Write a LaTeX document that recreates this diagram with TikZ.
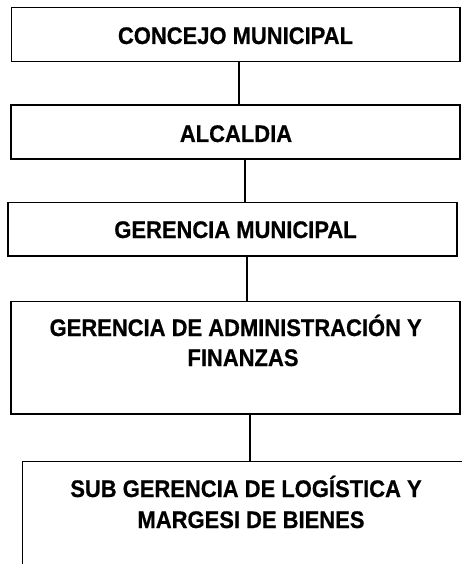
\documentclass[tikz,border=0pt]{standalone}
\usepackage{fontspec}
\newfontfamily\lab{Liberation Sans}[FakeStretch=0.915,FakeBold=0.6]
\begin{document}
\begin{tikzpicture}[x=1pt,y=-1pt,
  box/.style={draw, line width=1.3pt, inner sep=0pt, rectangle},
  lbl/.style={font=\lab\bfseries\fontsize{24}{30}\selectfont, anchor=base, inner sep=0pt},
  conn/.style={line width=1.3pt}]
\fill[white] (0,0) rectangle (461,564);
\useasboundingbox (0,0) rectangle (461,564);
% boxes
\node[box, minimum width=448.3pt, minimum height=54.4pt] (b1) at (235.85,34.5) {};
\node[box, minimum width=449pt, minimum height=54pt] (b2) at (235.5,132) {};
\node[box, minimum width=449pt, minimum height=53.7pt] (b3) at (232.5,229.15) {};
\node[box, minimum width=449pt, minimum height=112.3pt] (b4) at (235.5,357.85) {};
\coordinate (b5top) at (250,461.7);
\coordinate (b5bl) at (22.7,570);
\coordinate (b5tl) at (22.7,461.7);
\coordinate (b5tr) at (470,461.7);
\draw[line width=1.3pt] (b5bl) -- (b5tl) -- (b5tr);
% labels
\node[lbl] (t1) at (235.5,44) {CONCEJO MUNICIPAL};
\node[lbl] (t2) at (236,142) {ALCALDIA};
\node[lbl] (t3) at (235.5,238) {GERENCIA MUNICIPAL};
\node[lbl] (t4a) at (235.7,336) {GERENCIA DE ADMINISTRACIÓN Y};
\node[lbl] (t4b) at (243,366) {FINANZAS};
\node[lbl] (t5a) at (246,497) {SUB GERENCIA DE LOGÍSTICA Y};
\node[lbl] (t5b) at (251,528) {MARGESI DE BIENES};
% connectors
\draw[conn] ([xshift=3.2pt]b1.south) -- ([xshift=3.2pt]b1.south |- b2.north);
\draw[conn] ([xshift=9.5pt]b2.south) -- ([xshift=9.5pt]b2.south |- b3.north);
\draw[conn] ([xshift=14.5pt]b3.south) -- ([xshift=14.5pt]b3.south |- b4.north);
\draw[conn] ([xshift=14.5pt]b4.south) -- ([xshift=14.5pt]b4.south |- b5top);
\end{tikzpicture}
\end{document}
